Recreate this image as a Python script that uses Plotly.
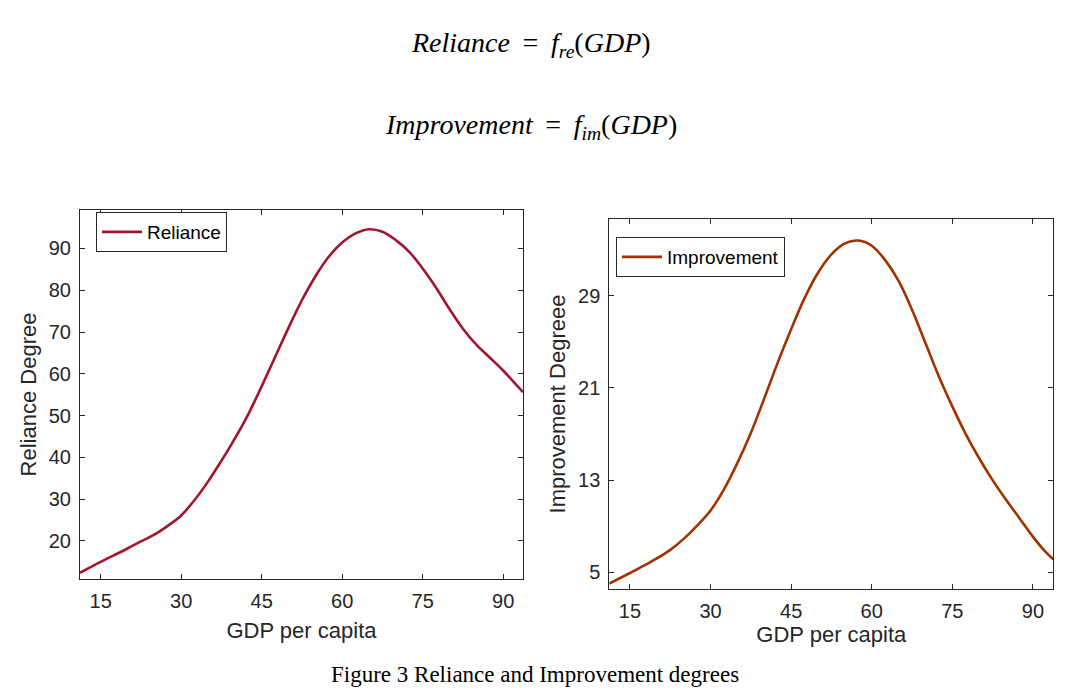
import plotly.graph_objects as go

# Reliance curve
rel_gdp = [11.15, 15, 17.5, 20, 22.5, 25, 27.5, 30, 32.5, 35, 37.5, 40, 42.5, 45, 47.5, 50, 52.5, 55, 57.5, 60,
           62.5, 65, 67.5, 70, 72.5, 75, 77.5, 80, 82.5, 85, 87.5, 90, 92.5, 93.7]
rel_val = [12.4, 15.0, 16.6, 18.2, 19.9, 21.5, 23.6, 26.1, 29.8, 34.2, 39.2, 44.5, 50.3, 57.0, 64.0, 71.0, 77.6, 83.3, 88.0, 91.4,
           93.6, 94.6, 94.0, 92.0, 89.2, 85.2, 80.6, 75.5, 70.8, 67.0, 63.9, 60.8, 57.3, 55.6]

# Improvement curve
imp_gdp = [11.15, 15, 17.5, 20, 22.5, 25, 27.5, 30, 32.5, 35, 37.5, 40, 42.5, 45, 47.5, 50, 52.5, 55, 57.5, 60,
           62.5, 65, 67.5, 70, 72.5, 75, 77.5, 80, 82.5, 85, 87.5, 90, 92.5, 93.8]
imp_val = [4.02, 4.94, 5.55, 6.2, 6.95, 7.9, 9.05, 10.37, 12.2, 14.5, 17.1, 20.1, 23.2, 26.1, 28.8, 31.0, 32.6, 33.55, 33.8, 33.35,
           32.1, 30.3, 27.8, 24.9, 22.0, 19.4, 17.0, 14.9, 13.0, 11.3, 9.7, 8.1, 6.7, 6.13]

x_ticks = [15, 30, 45, 60, 75, 90]
rel_ticks = [20, 30, 40, 50, 60, 70, 80, 90]
imp_ticks = [5, 13, 21, 29]

W, H = 1071, 692
def fx(px):
    return px / W
def fy(py):
    return 1 - py / H

AX = "#262626"
SANS = "Liberation Sans, Arial, sans-serif"
SERIF = "Liberation Serif, Times New Roman, serif"

fig = go.Figure()
fig.add_trace(go.Scatter(x=rel_gdp, y=rel_val, mode="lines", name="Reliance",
                         line=dict(color="#A2142F", width=2.6, shape="spline", smoothing=1.0),
                         xaxis="x", yaxis="y", legend="legend"))
fig.add_trace(go.Scatter(x=imp_gdp, y=imp_val, mode="lines", name="Improvement",
                         line=dict(color="#A03200", width=2.6, shape="spline", smoothing=1.0),
                         xaxis="x2", yaxis="y2", legend="legend2"))

axis_common = dict(showline=True, linecolor=AX, linewidth=1, mirror="ticks",
                   ticks="inside", ticklen=5, tickwidth=1, tickcolor=AX,
                   showgrid=False, zeroline=False,
                   tickfont=dict(family=SANS, size=20, color=AX),
                   title_font=dict(family=SANS, size=22, color=AX))

fig.update_layout(
    width=W, height=H, autosize=False,
    margin=dict(l=0, r=0, t=0, b=0),
    paper_bgcolor="white", plot_bgcolor="white",
    xaxis=dict(domain=[fx(80), fx(523)], range=[11.15, 93.7], tickvals=x_ticks,
               ticklabelstandoff=4,
               title=dict(text="GDP per capita", standoff=11), anchor="y", **axis_common),
    yaxis=dict(domain=[fy(579), fy(210)], range=[10.9, 99.2], tickvals=rel_ticks,
               ticklabelstandoff=4,
               title=dict(text="Reliance Degree", standoff=6), anchor="x", **axis_common),
    xaxis2=dict(domain=[fx(609.3), fx(1053.3)], range=[11.15, 93.8], tickvals=x_ticks,
                ticklabelstandoff=4,
                title=dict(text="GDP per capita", standoff=0), anchor="y2", **axis_common),
    yaxis2=dict(domain=[fy(589), fy(219)], range=[3.55, 35.67], tickvals=imp_ticks,
                ticklabelstandoff=4,
                title=dict(text="Improvement Degreee", standoff=6), anchor="x2", **axis_common),
    legend=dict(x=fx(96), y=fy(212), xanchor="left", yanchor="top",
                bgcolor="white", bordercolor=AX, borderwidth=1,
                font=dict(family=SANS, size=19, color="black"),
                itemwidth=40, tracegroupgap=0),
    legend2=dict(x=fx(616), y=fy(237), xanchor="left", yanchor="top",
                 bgcolor="white", bordercolor=AX, borderwidth=1,
                 font=dict(family=SANS, size=19, color="black"),
                 itemwidth=40, tracegroupgap=0),
    showlegend=True,
)

fig.add_annotation(text="<i>Reliance</i> \u2009=\u2009 <i>f</i><sub><i>re</i></sub>(<i>GDP</i>)",
                   x=fx(531), y=fy(44), xref="paper", yref="paper", showarrow=False,
                   xanchor="center", yanchor="middle",
                   font=dict(family=SERIF, size=28, color="black"))
fig.add_annotation(text="<i>Improvement</i> \u2009=\u2009 <i>f</i><sub><i>im</i></sub>(<i>GDP</i>)",
                   x=fx(531), y=fy(127), xref="paper", yref="paper", showarrow=False,
                   xanchor="center", yanchor="middle",
                   font=dict(family=SERIF, size=28, color="black"))
fig.add_annotation(text="Figure 3 Reliance and Improvement degrees",
                   x=fx(535), y=fy(674), xref="paper", yref="paper", showarrow=False,
                   xanchor="center", yanchor="middle",
                   font=dict(family=SERIF, size=23, color="black"))

fig.write_html("out.html", config={"displayModeBar": False},
               post_script="document.body.style.margin='0';")
